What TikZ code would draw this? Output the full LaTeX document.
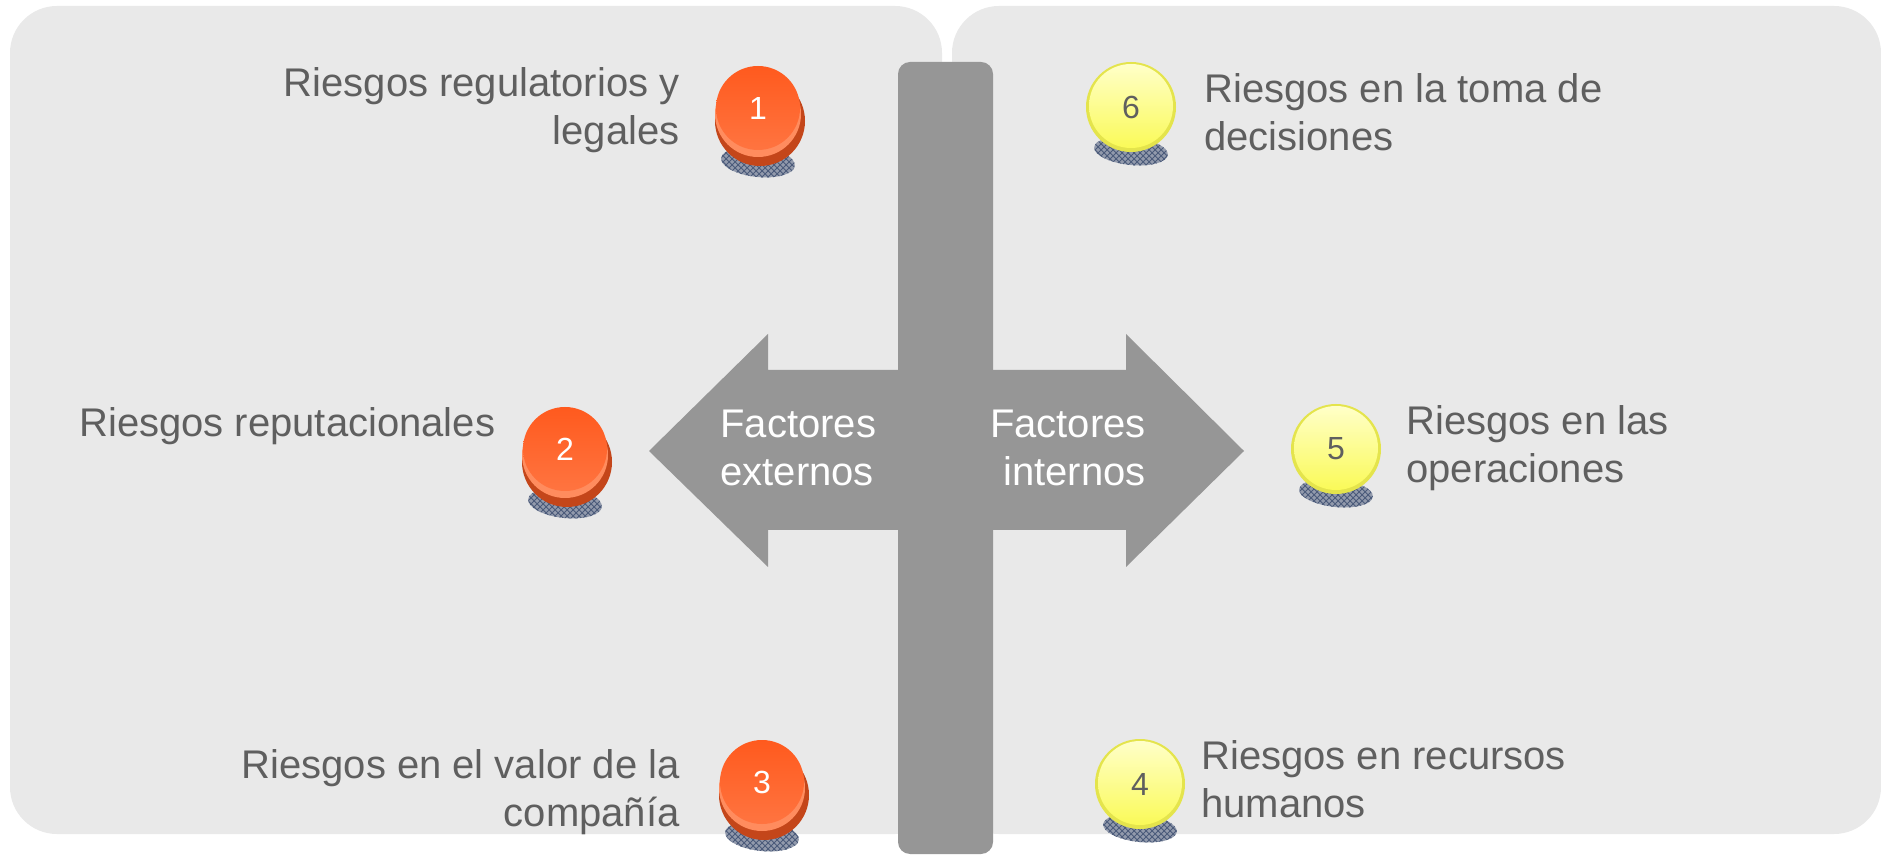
\documentclass[tikz,border=0pt]{standalone}
\usepackage{fontspec}
\setmainfont{Liberation Sans}
\usetikzlibrary{patterns}
\definecolor{panel}{HTML}{E9E9E9}
\definecolor{barc}{HTML}{969696}
\definecolor{txt}{HTML}{5F5F5F}
\definecolor{shad}{HTML}{4A5A7A}
\definecolor{orTop}{HTML}{FF5A1E}
\definecolor{orBot}{HTML}{FF7440}
\definecolor{orRim}{HTML}{C4461A}
\definecolor{orBand}{HTML}{FF8C5E}
\definecolor{yeTop}{HTML}{FFFFC8}
\definecolor{yeBot}{HTML}{FAFA58}
\definecolor{yeRim}{HTML}{E4E44C}
\tikzset{
  panelbox/.style={fill=panel, rounded corners=23.5pt},
  crossbar/.style={fill=barc},
  risklabel/.style={text=txt, font=\fontsize{20}{24}\selectfont, inner sep=0pt},
  factor/.style={text=white, font=\fontsize{20}{24}\selectfont, inner sep=0pt},
  ballnum/.style={circle, inner sep=0pt, minimum size=40pt, font=\fontsize{16}{19}\selectfont},
  ballshadow/.style={pattern=crosshatch, pattern color=shad},
}
\newcommand\orangeball[4]{% name, x, y, number
  \fill[shad!55!panel] (#2,#3+54) ellipse [x radius=37, y radius=15, rotate=-6];
  \fill[ballshadow] (#2,#3+54) ellipse [x radius=37, y radius=15, rotate=-6];
  \fill[orRim] (#2+2,#3+13) circle (45);
  \fill[orBand] (#2,#3+6) circle (43);
  \shade[top color=orTop, bottom color=orBot] (#2,#3) circle (42);
  \node[ballnum, text=white] (#1) at (#2,#3) {#4};
}
\newcommand\yellowball[4]{% name, x, y, number
  \fill[shad!55!panel] (#2,#3+44) ellipse [x radius=37, y radius=14, rotate=-6];
  \fill[ballshadow] (#2,#3+44) ellipse [x radius=37, y radius=14, rotate=-6];
  \fill[yeRim] (#2,#3) circle (45);
  \shade[top color=yeTop, bottom color=yeBot] (#2,#3-1) circle (42);
  \node[ballnum, text=txt] (#1) at (#2,#3) {#4};
}
\begin{document}
\begin{tikzpicture}[x=0.5pt, y=-0.5pt]
\useasboundingbox (0,0) rectangle (1881,855);
\fill[white] (0,0) rectangle (1881,855);
% panels
\fill[panelbox] (10,6) rectangle (942,834);
\fill[panelbox] (952,6) rectangle (1881,834);
% vertical bar
\fill[crossbar, rounded corners=6pt] (898,62) rectangle (993,854);
% double arrow
\fill[crossbar] (649,451) -- (768,334) -- (768,370) -- (1126,370) -- (1126,334)
  -- (1244,451) -- (1126,567) -- (1126,530) -- (768,530) -- (768,567) -- cycle;
\node[factor, align=left, anchor=west] (ext) at (720,448) {Factores\\externos};
\node[factor, align=right, anchor=east] (int) at (1146,448) {Factores\\internos};
% labels
\node[risklabel, align=right, anchor=east] (t1) at (680,110) {Riesgos regulatorios y\\legales};
\node[risklabel, anchor=west] (t2) at (79,426) {Riesgos reputacionales};
\node[risklabel, align=right, anchor=east] (t3) at (680,792) {Riesgos en el valor de la\\compañía};
\node[risklabel, align=left, anchor=west] (t6) at (1204,112) {Riesgos en la toma de\\decisiones};
\node[risklabel, align=left, anchor=west] (t5) at (1406,448) {Riesgos en las\\operaciones};
\node[risklabel, align=left, anchor=west] (t4) at (1201,779) {Riesgos en recursos\\humanos};
% balls
\orangeball{b1}{758}{108}{1}
\orangeball{b2}{565}{449}{2}
\orangeball{b3}{762}{782}{3}
\yellowball{b6}{1131}{107}{6}
\yellowball{b5}{1336}{449}{5}
\yellowball{b4}{1140}{784}{4}
\end{tikzpicture}
\end{document}
